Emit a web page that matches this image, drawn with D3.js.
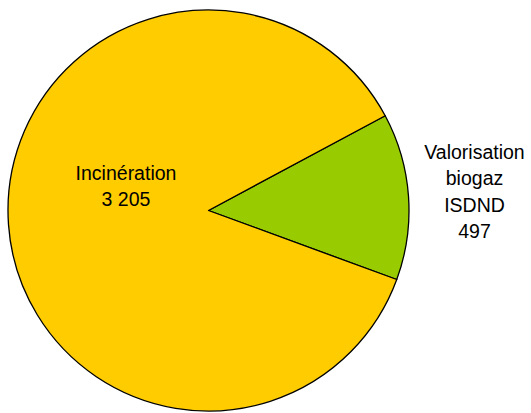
<!DOCTYPE html>
<html>
<head>
<meta charset="UTF-8">
<title>Pie</title>
<script src="https://cdnjs.cloudflare.com/ajax/libs/d3/7.8.5/d3.min.js"></script>
<style>
  body { margin: 0; background: #fff; }
  text { font-family: "Liberation Sans", Arial, sans-serif; fill: #000; }
</style>
</head>
<body>
<svg id="chart" width="531" height="413"></svg>
<script>
// data
var categories = ["Valorisation biogaz ISDND", "Incinération"];
var values = [497, 3205];
var valueLabels = ["497", "3 205"];
var labelLines = [["Valorisation", "biogaz", "ISDND"], ["Incinération"]];
var colors = ["#99CC00", "#FFCC00"];

var svg = d3.select("#chart"),
    cx = 208.5, cy = 210.5, r = 200.5;

var start = 61.8 * Math.PI / 180;
var pie = d3.pie().sort(null).startAngle(start).endAngle(start + 2 * Math.PI);
var arc = d3.arc().innerRadius(0).outerRadius(r);

var g = svg.append("g").attr("transform", "translate(" + cx + "," + cy + ")");
var arcs = pie(values);

g.selectAll("path").data(arcs).enter().append("path")
    .attr("d", arc)
    .attr("fill", function (d, i) { return colors[i]; })
    .attr("stroke", "#000")
    .attr("stroke-width", 1.3)
    .attr("stroke-linejoin", "round");

// label positions (relative to centre)
var labelPos = [[266, -52], [-82.5, -31]];
var lineH = 26.5;

arcs.forEach(function (d, i) {
    var lines = labelLines[i].concat([valueLabels[i]]);
    var t = g.append("text")
        .attr("text-anchor", "middle")
        .attr("font-size", "19.5px");
    lines.forEach(function (s, k) {
        t.append("tspan")
            .attr("x", labelPos[i][0])
            .attr("y", labelPos[i][1] + k * lineH)
            .text(s);
    });
});
</script>
</body>
</html>
